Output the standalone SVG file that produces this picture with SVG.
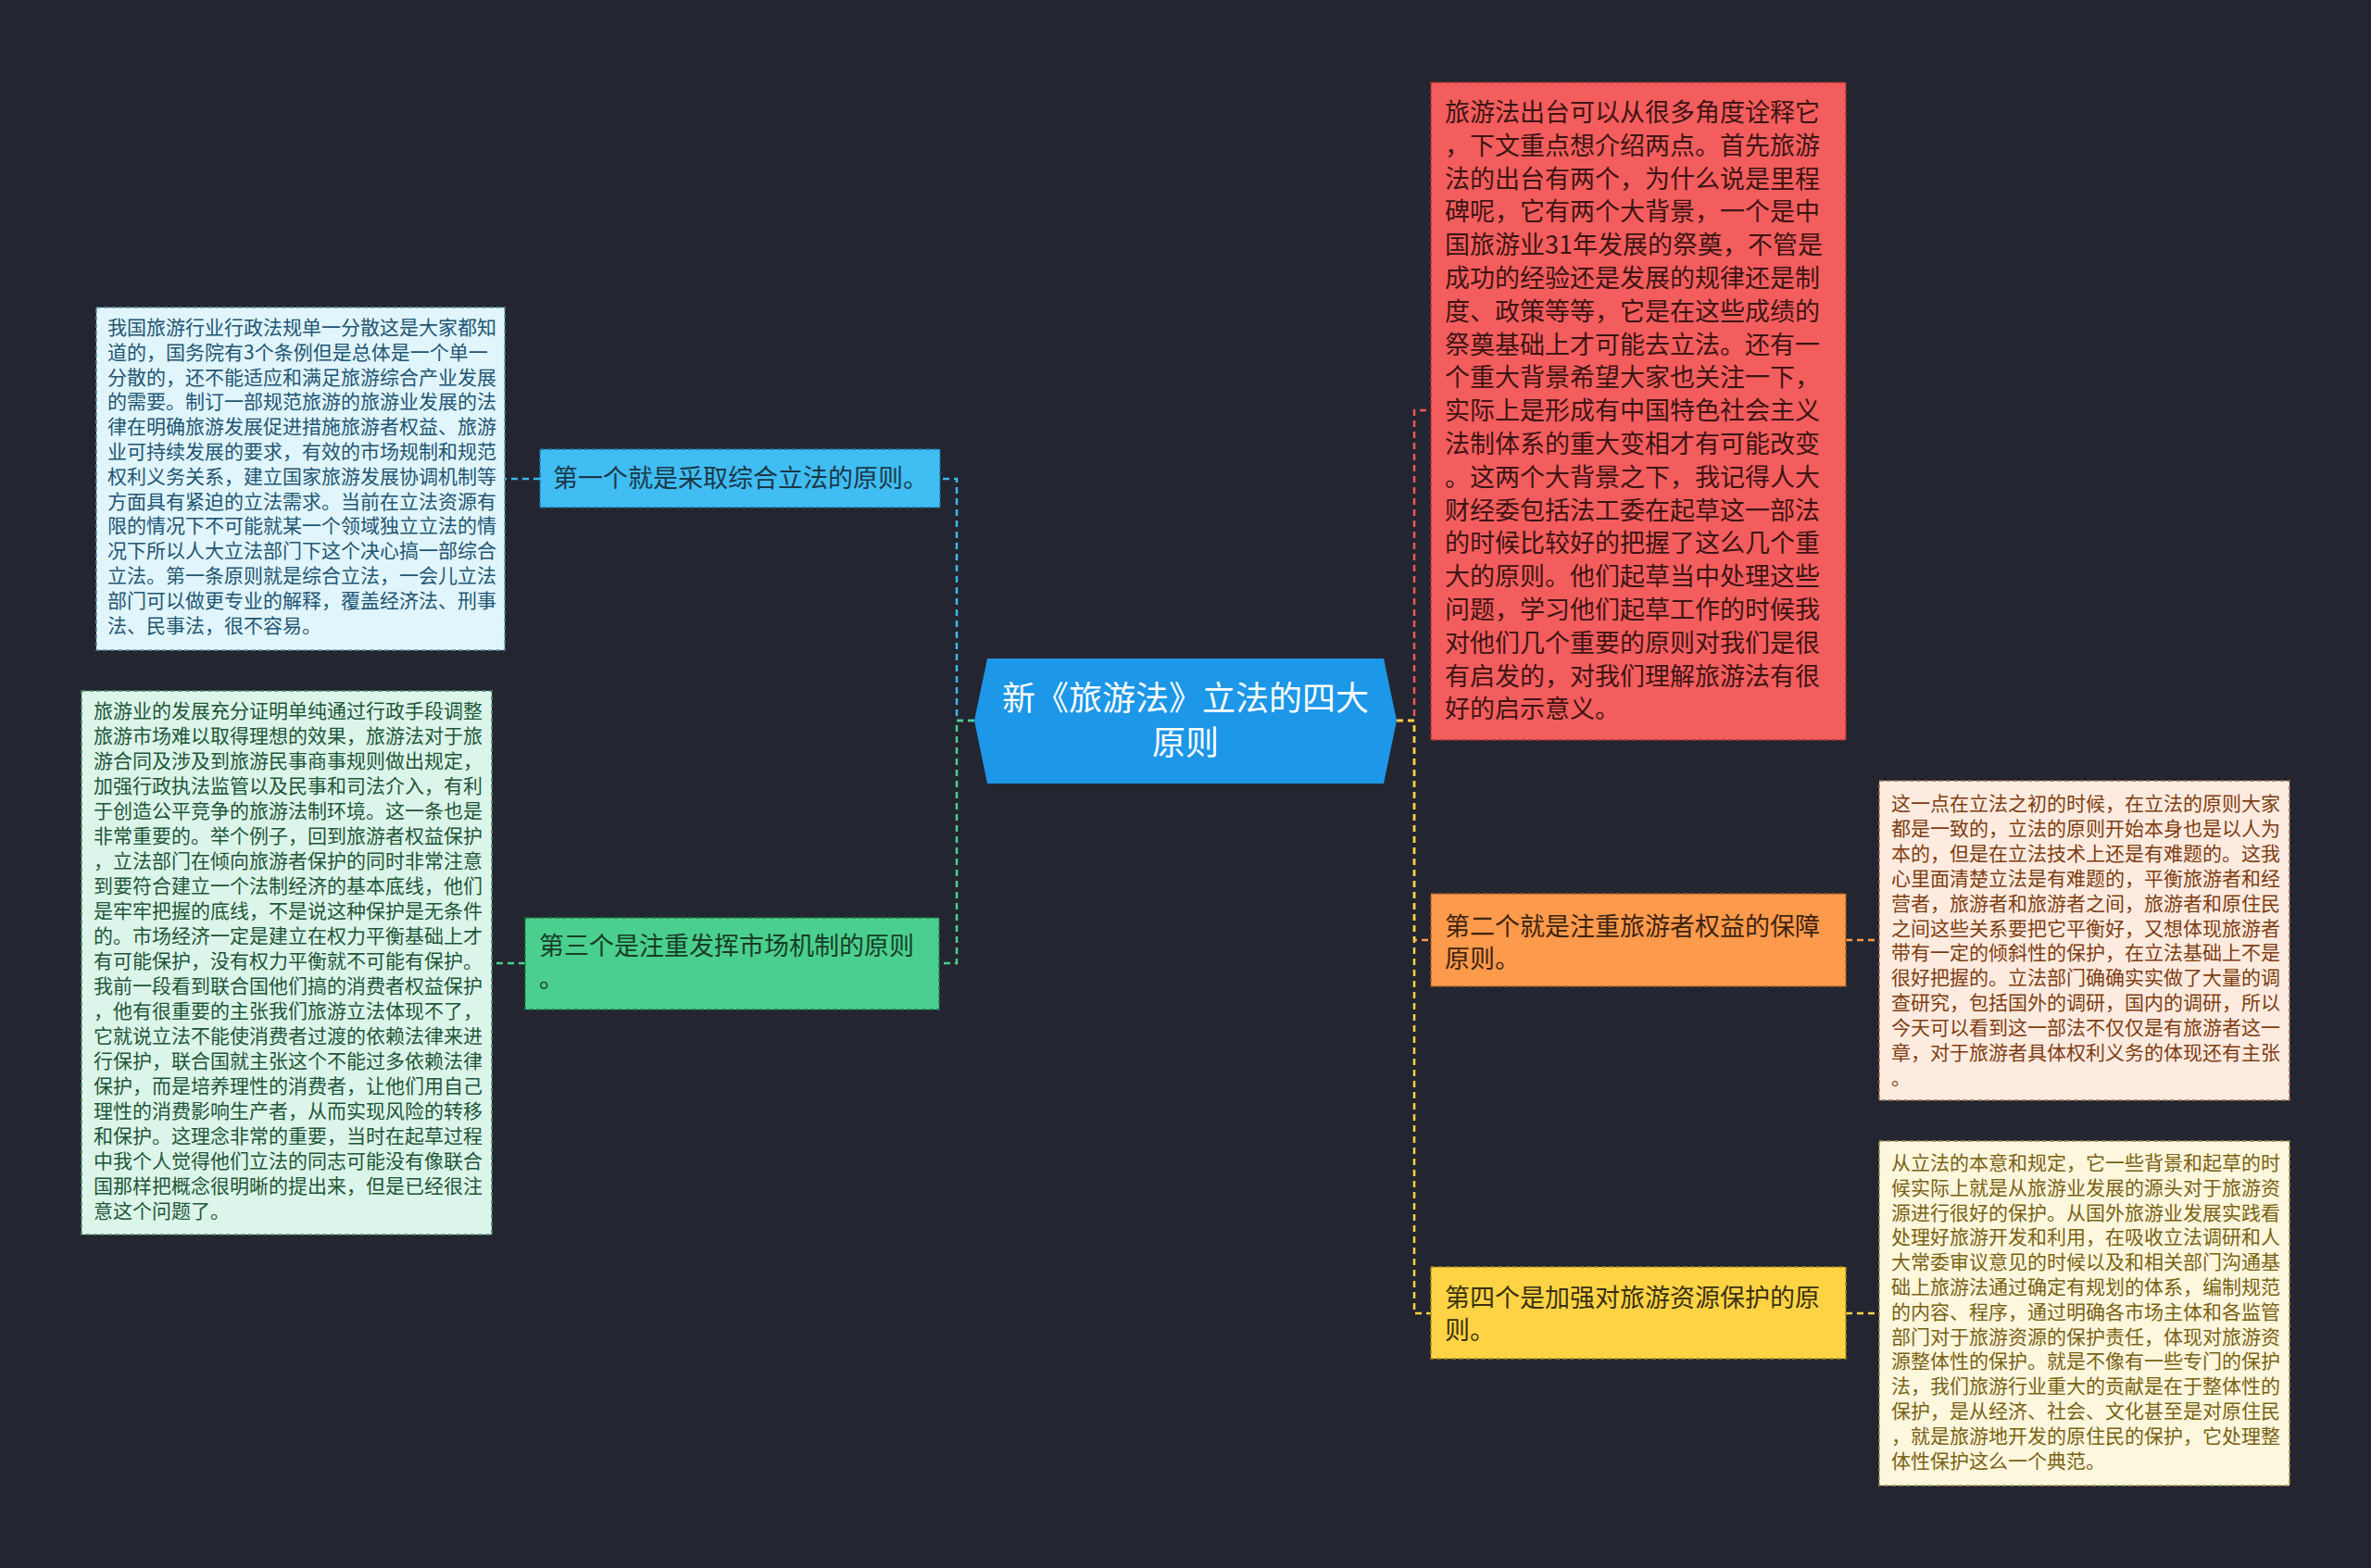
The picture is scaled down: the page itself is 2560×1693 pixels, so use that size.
<svg xmlns="http://www.w3.org/2000/svg" width="2560" height="1693" viewBox="0 0 2560 1693">
<style>
text{font-family:"Noto Sans CJK SC","Noto Sans",sans-serif;}
.d{font-size:21px;}
.n{font-size:27px;}
.c{font-size:36px;fill:#ffffff;}
.box{stroke-width:1.5;stroke-dasharray:5 3;}
.link{fill:none;stroke-width:2.5;stroke-dasharray:7 5;}
</style>
<rect width="2560" height="1693" fill="#232630"/>
<g id="connectors">
<path class="link" stroke="#3db8ef" d="M1052,778 H1033 V517 H1015"/>
<path class="link" stroke="#4bcf8e" d="M1052,778 H1033 V1040 H1014"/>
<path class="link" stroke="#f05858" d="M1508,778 H1527 V443 H1545"/>
<path class="link" stroke="#fe9a4c" d="M1508,778 H1527 V1015 H1545"/>
<path class="link" stroke="#fed444" d="M1508,778 H1527 V1418 H1545"/>
<path class="link" stroke="#3db8ef" d="M583,517 H545"/>
<path class="link" stroke="#4bcf8e" d="M567,1040 H531"/>
<path class="link" stroke="#fe9a4c" d="M1993,1015 H2029"/>
<path class="link" stroke="#fed444" d="M1993,1418 H2029"/>
</g>
<g id="center">
<polygon points="1066,711 1494,711 1508,778 1494,846 1066,846 1052,778" fill="#1d97e8"/>
<text class="c" text-anchor="middle" x="1280" y="767">新《旅游法》立法的四大</text>
<text class="c" text-anchor="middle" x="1280" y="815">原则</text>
</g>
<g id="node-1">
<rect class="box" x="583" y="485" width="432" height="63" fill="#40bdf3" stroke="#1e6d94"/>
<text class="n" x="597" y="526" fill="#1b3848">第一个就是采取综合立法的原则。</text>
</g>
<g id="detail-1">
<rect class="box" x="104" y="332" width="441" height="370" fill="#e0f5fc" stroke="#5a8ea8"/>
<text class="d" fill="#1f5673">
<tspan x="116" y="361">我国旅游行业行政法规单一分散这是大家都知</tspan>
<tspan x="116" dy="26.8">道的，国务院有3个条例但是总体是一个单一</tspan>
<tspan x="116" dy="26.8">分散的，还不能适应和满足旅游综合产业发展</tspan>
<tspan x="116" dy="26.8">的需要。制订一部规范旅游的旅游业发展的法</tspan>
<tspan x="116" dy="26.8">律在明确旅游发展促进措施旅游者权益、旅游</tspan>
<tspan x="116" dy="26.8">业可持续发展的要求，有效的市场规制和规范</tspan>
<tspan x="116" dy="26.8">权利义务关系，建立国家旅游发展协调机制等</tspan>
<tspan x="116" dy="26.8">方面具有紧迫的立法需求。当前在立法资源有</tspan>
<tspan x="116" dy="26.8">限的情况下不可能就某一个领域独立立法的情</tspan>
<tspan x="116" dy="26.8">况下所以人大立法部门下这个决心搞一部综合</tspan>
<tspan x="116" dy="26.8">立法。第一条原则就是综合立法，一会儿立法</tspan>
<tspan x="116" dy="26.8">部门可以做更专业的解释，覆盖经济法、刑事</tspan>
<tspan x="116" dy="26.8">法、民事法，很不容易。</tspan>
</text>
</g>
<g id="node-3">
<rect class="box" x="567" y="991" width="447" height="99" fill="#4bcf8e" stroke="#1f7a4c"/>
<text class="n" fill="#173d28"><tspan x="582" y="1031">第三个是注重发挥市场机制的原则</tspan><tspan x="582" dy="35">。</tspan></text>
</g>
<g id="detail-3">
<rect class="box" x="88" y="746" width="443" height="587" fill="#dcf5ea" stroke="#4f8a6c"/>
<text class="d" fill="#1e5638">
<tspan x="101" y="775">旅游业的发展充分证明单纯通过行政手段调整</tspan>
<tspan x="101" dy="27">旅游市场难以取得理想的效果，旅游法对于旅</tspan>
<tspan x="101" dy="27">游合同及涉及到旅游民事商事规则做出规定，</tspan>
<tspan x="101" dy="27">加强行政执法监管以及民事和司法介入，有利</tspan>
<tspan x="101" dy="27">于创造公平竞争的旅游法制环境。这一条也是</tspan>
<tspan x="101" dy="27">非常重要的。举个例子，回到旅游者权益保护</tspan>
<tspan x="101" dy="27">，立法部门在倾向旅游者保护的同时非常注意</tspan>
<tspan x="101" dy="27">到要符合建立一个法制经济的基本底线，他们</tspan>
<tspan x="101" dy="27">是牢牢把握的底线，不是说这种保护是无条件</tspan>
<tspan x="101" dy="27">的。市场经济一定是建立在权力平衡基础上才</tspan>
<tspan x="101" dy="27">有可能保护，没有权力平衡就不可能有保护。</tspan>
<tspan x="101" dy="27">我前一段看到联合国他们搞的消费者权益保护</tspan>
<tspan x="101" dy="27">，他有很重要的主张我们旅游立法体现不了，</tspan>
<tspan x="101" dy="27">它就说立法不能使消费者过渡的依赖法律来进</tspan>
<tspan x="101" dy="27">行保护，联合国就主张这个不能过多依赖法律</tspan>
<tspan x="101" dy="27">保护，而是培养理性的消费者，让他们用自己</tspan>
<tspan x="101" dy="27">理性的消费影响生产者，从而实现风险的转移</tspan>
<tspan x="101" dy="27">和保护。这理念非常的重要，当时在起草过程</tspan>
<tspan x="101" dy="27">中我个人觉得他们立法的同志可能没有像联合</tspan>
<tspan x="101" dy="27">国那样把概念很明晰的提出来，但是已经很注</tspan>
<tspan x="101" dy="27">意这个问题了。</tspan>
</text>
</g>
<g id="node-red">
<rect class="box" x="1545" y="89" width="448" height="710" fill="#f45d5d" stroke="#a83030"/>
<text class="n" fill="#3d1414">
<tspan x="1560" y="131">旅游法出台可以从很多角度诠释它</tspan>
<tspan x="1560" dy="35.8">，下文重点想介绍两点。首先旅游</tspan>
<tspan x="1560" dy="35.8">法的出台有两个，为什么说是里程</tspan>
<tspan x="1560" dy="35.8">碑呢，它有两个大背景，一个是中</tspan>
<tspan x="1560" dy="35.8">国旅游业31年发展的祭奠，不管是</tspan>
<tspan x="1560" dy="35.8">成功的经验还是发展的规律还是制</tspan>
<tspan x="1560" dy="35.8">度、政策等等，它是在这些成绩的</tspan>
<tspan x="1560" dy="35.8">祭奠基础上才可能去立法。还有一</tspan>
<tspan x="1560" dy="35.8">个重大背景希望大家也关注一下，</tspan>
<tspan x="1560" dy="35.8">实际上是形成有中国特色社会主义</tspan>
<tspan x="1560" dy="35.8">法制体系的重大变相才有可能改变</tspan>
<tspan x="1560" dy="35.8">。这两个大背景之下，我记得人大</tspan>
<tspan x="1560" dy="35.8">财经委包括法工委在起草这一部法</tspan>
<tspan x="1560" dy="35.8">的时候比较好的把握了这么几个重</tspan>
<tspan x="1560" dy="35.8">大的原则。他们起草当中处理这些</tspan>
<tspan x="1560" dy="35.8">问题，学习他们起草工作的时候我</tspan>
<tspan x="1560" dy="35.8">对他们几个重要的原则对我们是很</tspan>
<tspan x="1560" dy="35.8">有启发的，对我们理解旅游法有很</tspan>
<tspan x="1560" dy="35.8">好的启示意义。</tspan>
</text>
</g>
<g id="node-2">
<rect class="box" x="1545" y="965" width="448" height="100" fill="#fe9a4c" stroke="#a85a20"/>
<text class="n" fill="#3d2310"><tspan x="1560" y="1010">第二个就是注重旅游者权益的保障</tspan><tspan x="1560" dy="35">原则。</tspan></text>
</g>
<g id="detail-2">
<rect class="box" x="2029" y="843" width="443" height="345" fill="#fdebe0" stroke="#a06a4a"/>
<text class="d" fill="#7f3d10">
<tspan x="2042" y="875">这一点在立法之初的时候，在立法的原则大家</tspan>
<tspan x="2042" dy="26.9">都是一致的，立法的原则开始本身也是以人为</tspan>
<tspan x="2042" dy="26.9">本的，但是在立法技术上还是有难题的。这我</tspan>
<tspan x="2042" dy="26.9">心里面清楚立法是有难题的，平衡旅游者和经</tspan>
<tspan x="2042" dy="26.9">营者，旅游者和旅游者之间，旅游者和原住民</tspan>
<tspan x="2042" dy="26.9">之间这些关系要把它平衡好，又想体现旅游者</tspan>
<tspan x="2042" dy="26.9">带有一定的倾斜性的保护，在立法基础上不是</tspan>
<tspan x="2042" dy="26.9">很好把握的。立法部门确确实实做了大量的调</tspan>
<tspan x="2042" dy="26.9">查研究，包括国外的调研，国内的调研，所以</tspan>
<tspan x="2042" dy="26.9">今天可以看到这一部法不仅仅是有旅游者这一</tspan>
<tspan x="2042" dy="26.9">章，对于旅游者具体权利义务的体现还有主张</tspan>
<tspan x="2042" dy="26.9">。</tspan>
</text>
</g>
<g id="node-4">
<rect class="box" x="1545" y="1368" width="448" height="99" fill="#fed444" stroke="#a88a20"/>
<text class="n" fill="#3a3010"><tspan x="1560" y="1411">第四个是加强对旅游资源保护的原</tspan><tspan x="1560" dy="35">则。</tspan></text>
</g>
<g id="detail-4">
<rect class="box" x="2029" y="1232" width="443" height="372" fill="#fdf7de" stroke="#a0904a"/>
<text class="d" fill="#7a6212">
<tspan x="2042" y="1263">从立法的本意和规定，它一些背景和起草的时</tspan>
<tspan x="2042" dy="26.8">候实际上就是从旅游业发展的源头对于旅游资</tspan>
<tspan x="2042" dy="26.8">源进行很好的保护。从国外旅游业发展实践看</tspan>
<tspan x="2042" dy="26.8">处理好旅游开发和利用，在吸收立法调研和人</tspan>
<tspan x="2042" dy="26.8">大常委审议意见的时候以及和相关部门沟通基</tspan>
<tspan x="2042" dy="26.8">础上旅游法通过确定有规划的体系，编制规范</tspan>
<tspan x="2042" dy="26.8">的内容、程序，通过明确各市场主体和各监管</tspan>
<tspan x="2042" dy="26.8">部门对于旅游资源的保护责任，体现对旅游资</tspan>
<tspan x="2042" dy="26.8">源整体性的保护。就是不像有一些专门的保护</tspan>
<tspan x="2042" dy="26.8">法，我们旅游行业重大的贡献是在于整体性的</tspan>
<tspan x="2042" dy="26.8">保护，是从经济、社会、文化甚至是对原住民</tspan>
<tspan x="2042" dy="26.8">，就是旅游地开发的原住民的保护，它处理整</tspan>
<tspan x="2042" dy="26.8">体性保护这么一个典范。</tspan>
</text>
</g>
</svg>
